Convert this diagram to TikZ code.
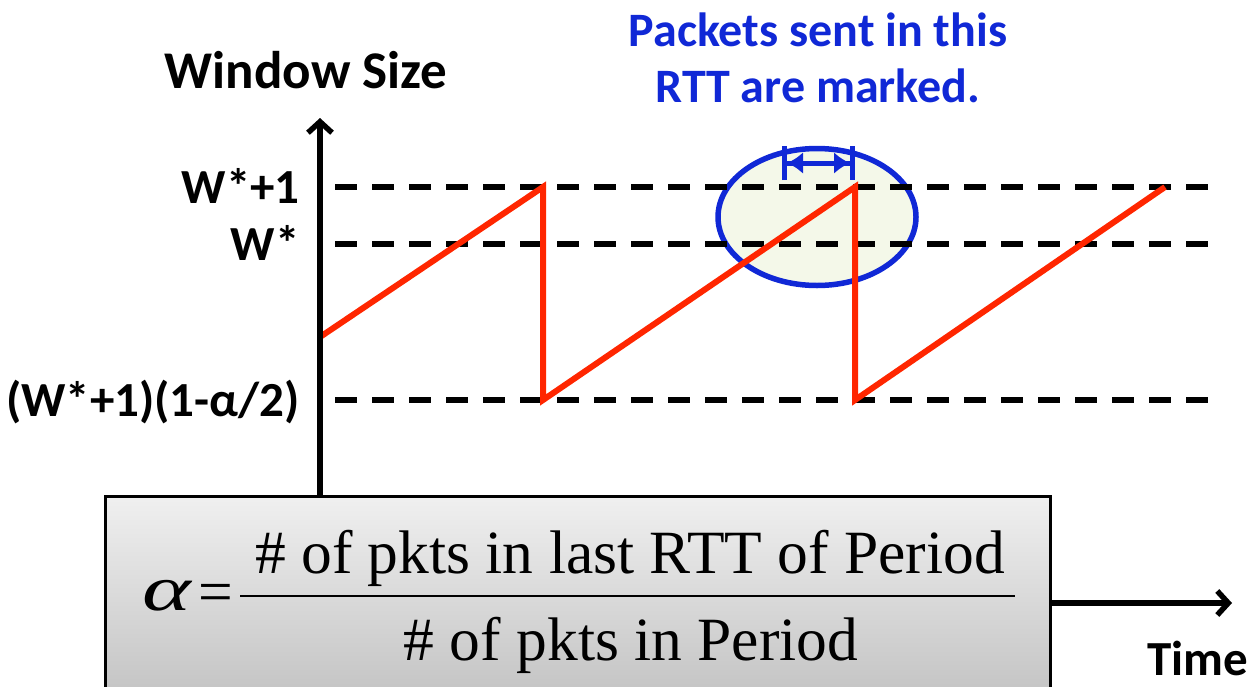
\documentclass[tikz,border=0pt]{standalone}
\usepackage{fontspec}
\setmainfont{Carlito}
\newfontfamily\timesfont{Liberation Serif}
\usetikzlibrary{arrows.meta,positioning,calc,shapes.geometric}

\definecolor{markblue}{RGB}{16,40,214}
\definecolor{sawred}{RGB}{255,38,0}
\definecolor{bubblefill}{RGB}{244,248,233}

\begin{document}
\begin{tikzpicture}[
        x=1pt, y=-1pt,
        lbl/.style={font=\fontsize{49}{56}\selectfont\bfseries, inner sep=0pt},
        bluelbl/.style={lbl, text=markblue, font=\fontsize{48}{56}\selectfont\bfseries},
        axisline/.style={line width=5.5pt, -{Straight Barb[length=11pt,width=24pt]}},
        dashline/.style={line width=5.5pt, dash pattern=on 22pt off 15pt},
        sawline/.style={line width=6pt, draw=sawred, line join=miter},
        bubble/.style={ellipse, draw=markblue, line width=5.5pt, fill=bubblefill, minimum width=198pt, minimum height=137pt},
        spanarrow/.style={line width=5pt, draw=markblue, {Bar[width=34pt]Latex[length=16pt,width=22pt]}-{Latex[length=16pt,width=22pt]Bar[width=34pt]}},
        formbox/.style={draw, line width=3pt, top color=black!6, bottom color=black!25, minimum width=945pt, minimum height=220pt},
        formtext/.style={font=\fontsize{61.5}{66}\selectfont\timesfont, inner sep=0pt}
    ]
    \useasboundingbox (0,0) rectangle (1255,686);

% --- marked RTT bubble ---
    \node[bubble] (rttmark) at (817,217) {};

% --- levels ---
    \coordinate (hiL) at (335,187);  \coordinate (hiR) at (1215,187);
    \coordinate (midL) at (335,244); \coordinate (midR) at (1215,244);
    \coordinate (loL) at (335,400);  \coordinate (loR) at (1215,400);
    \draw[dashline] (hiL) -- (hiR);
    \draw[dashline] (midL) -- (midR);
    \draw[dashline] (loL) -- (loR);

    \node[lbl, anchor=base east] (wmax) at (300,203) {W*+1};
    \node[lbl, anchor=base east] (wstar) at (300,260) {W*};
    \node[lbl, anchor=base east] (wmin) at (300,416) {(W*+1)(1-α/2)};

% --- window sawtooth ---
    \coordinate (s0) at (320,337);
    \coordinate (p1) at (543,187);
    \coordinate (t1) at (543,400);
    \coordinate (p2) at (855,187);
    \coordinate (t2) at (855,400);
    \coordinate (p3) at (1165,187);
    \draw[sawline] (s0) -- (p1) -- (t1) -- (p2) -- (t2) -- (p3);

% --- last RTT span ---
    \coordinate (rttL) at (782,163);
    \coordinate (rttR) at (855,163);
    \draw[spanarrow] (rttL) -- (rttR);

    \node[bluelbl, anchor=base] (mark1) at (818,46) {Packets sent in this};
    \node[bluelbl, anchor=base] (mark2) at (818,102) {RTT are marked.};

% --- axes ---
    \node[formbox] (formframe) at (577.5,606) {};
    \coordinate (wtop) at (320,118);
    \coordinate (tend) at (1232,603);
    \draw[axisline] (formframe.north -| wtop) -- (wtop);
    \draw[axisline] (formframe.east |- tend) -- (tend);
    \node[lbl, anchor=base, font=\fontsize{53}{58}\selectfont\bfseries] (wlabel) at (306,88) {Window Size};
    \node[lbl, anchor=base] (tlabel) at (1198,675) {Time};

% --- alpha formula ---
    \coordinate (barL) at (240,596);
    \coordinate (barR) at (1015,596);
    \draw[line width=2.5pt] (barL) -- (barR);
    \node[formtext, anchor=base] (num) at (630,573) {\# of pkts in last RTT of Period};
    \node[formtext, anchor=base] (den) at (631,660) {\# of pkts in Period};
    \node[formtext, anchor=base east] (eqsign) at (233,612) {=};
    \node[formtext, anchor=base east, font=\fontsize{64}{66}\selectfont\timesfont\itshape] (alpha) at (191,610) {\scalebox{1.45}[1]{α}};

\end{tikzpicture}
\end{document}
